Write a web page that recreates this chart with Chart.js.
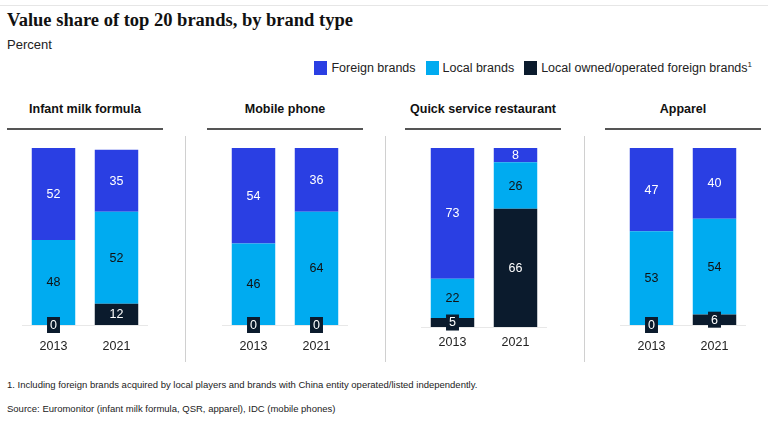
<!DOCTYPE html>
<html>
<head>
<meta charset="utf-8">
<script src="https://cdn.jsdelivr.net/npm/chart.js@4"></script>
<style>
  body { margin: 0; width: 768px; height: 422px; background: #fff; font-family: 'Liberation Sans', Arial, sans-serif; color: #222; position: relative; overflow: hidden; }
  .topline { position: absolute; left: 0; top: 5px; width: 768px; height: 1px; background: #e6e6e6; }
  .title { position: absolute; left: 7px; top: 10px; font-family: 'Liberation Serif', 'Times New Roman', serif; font-weight: bold; font-size: 18.5px; color: #111; }
  .sub { position: absolute; left: 7px; top: 37px; font-size: 13px; color: #222; }
  .legend { position: absolute; right: 16px; top: 60px; font-size: 12.5px; display: flex; align-items: center; }
  .legend span.sw { display: inline-block; width: 13px; height: 14px; margin-right: 4px; }
  .legend .item { display: flex; align-items: center; margin-left: 10px; }
  .head { position: absolute; top: 102px; width: 156px; text-align: center; font-weight: bold; font-size: 12.5px; color: #111; }
  .hline { position: absolute; top: 128px; width: 156px; height: 1.5px; background: #555; }
  .vsep { position: absolute; top: 136px; width: 1px; height: 226px; background: #d0d0d0; }
  .panel { position: absolute; top: 148px; width: 126px; }
  .note { position: absolute; left: 7px; font-size: 9.5px; color: #222; }
</style>
</head>
<body>
<div class="topline"></div>
<div class="title">Value share of top 20 brands, by brand type</div>
<div class="sub">Percent</div>
<div class="legend" id="legend"></div>

<div class="vsep" style="left:185px"></div>
<div class="vsep" style="left:385px"></div>
<div class="vsep" style="left:584px"></div>

<div class="note" style="top:379px">1. Including foreign brands acquired by local players and brands with China entity operated/listed independently.</div>
<div class="note" style="top:403px">Source: Euromonitor (infant milk formula, QSR, apparel), IDC (mobile phones)</div>

<script>
const categories = ['Infant milk formula', 'Mobile phone', 'Quick service restaurant', 'Apparel'];
const years = ['2013', '2021'];
const seriesNames = ['Foreign brands', 'Local brands', 'Local owned/operated foreign brands\u00b9'];

// values per category: [2013, 2021]
const foreign = [[52, 35], [54, 36], [73, 8], [47, 40]];
const local = [[48, 52], [46, 64], [22, 26], [53, 54]];
const localForeign = [[0, 12], [0, 0], [5, 66], [0, 6]];

const colors = ['#2a3fe3', '#00abf0', '#0b1b2d'];
const textColors = ['#ffffff', '#111111', '#ffffff'];

// legend
const legendEl = document.getElementById('legend');
seriesNames.forEach((name, i) => {
    const item = document.createElement('div');
    item.className = 'item';
    const sw = document.createElement('span');
    sw.className = 'sw';
    sw.style.background = colors[i];
    item.appendChild(sw);
    const t = document.createElement('span');
    if (name.endsWith('\u00b9')) {
        t.innerHTML = name.slice(0, -1) + '<sup style="font-size:8px">1</sup>';
    } else {
        t.textContent = name;
    }
    item.appendChild(t);
    legendEl.appendChild(item);
});

// value labels
const valueLabels = {
    id: 'valueLabels',
    afterDatasetsDraw(chart) {
        const ctx = chart.ctx;
        ctx.save();
        ctx.font = "12.5px 'Liberation Sans', Arial, sans-serif";
        ctx.textAlign = 'center';
        ctx.textBaseline = 'middle';
        chart.data.datasets.forEach((ds, di) => {
            const meta = chart.getDatasetMeta(di);
            meta.data.forEach((bar, i) => {
                const v = ds.data[i];
                const cy = (bar.y + bar.base) / 2;
                const h = Math.abs(bar.base - bar.y);
                if (ds.kind === 2 && h < 16) {
                    const w = ctx.measureText(String(v)).width + 6;
                    ctx.fillStyle = colors[2];
                    ctx.fillRect(bar.x - w / 2, cy - 8, w, 16);
                    ctx.fillStyle = '#fff';
                    ctx.fillText(String(v), bar.x, cy + 0.5);
                } else if (v > 0) {
                    ctx.fillStyle = textColors[ds.kind];
                    ctx.fillText(String(v), bar.x, cy + 0.5);
                }
            });
        });
        ctx.restore();
    }
};

const panelLeft = [22, 221.5, 421, 620];
const headLeft = [7, 207, 405, 605];
const tickPad = [14, 14, 8, 14];
const panelHeight = [220, 220, 210, 220];

categories.forEach((cat, c) => {
    const head = document.createElement('div');
    head.className = 'head';
    head.style.left = headLeft[c] + 'px';
    head.textContent = cat;
    document.body.appendChild(head);
    const hl = document.createElement('div');
    hl.className = 'hline';
    hl.style.left = headLeft[c] + 'px';
    document.body.appendChild(hl);

    const wrap = document.createElement('div');
    wrap.className = 'panel';
    wrap.style.left = panelLeft[c] + 'px';
    wrap.style.height = panelHeight[c] + 'px';
    const cv = document.createElement('canvas');
    wrap.appendChild(cv);
    document.body.appendChild(wrap);

    new Chart(cv, {
        type: 'bar',
        data: {
            labels: years,
            datasets: [
                { label: seriesNames[2], kind: 2, data: localForeign[c], backgroundColor: colors[2] },
                { label: seriesNames[1], kind: 1, data: local[c], backgroundColor: colors[1] },
                { label: seriesNames[0], kind: 0, data: foreign[c], backgroundColor: colors[0] }
            ]
        },
        options: {
            responsive: true,
            maintainAspectRatio: false,
            animation: false,
            datasets: { bar: { categoryPercentage: 1, barPercentage: 0.69, borderWidth: 0 } },
            layout: { padding: { top: 0, bottom: 0, left: 0, right: 0 } },
            plugins: {
                legend: { display: false },
                tooltip: { enabled: false }
            },
            scales: {
                y: { stacked: true, min: 0, max: 100, display: false },
                x: {
                    stacked: true,
                    grid: { display: false, drawTicks: false },
                    border: { color: '#e8e8e8', width: 1 },
                    ticks: {
                        color: '#222',
                        padding: tickPad[c],
                        font: { size: 12.5, family: "'Liberation Sans', Arial, sans-serif" }
                    }
                }
            }
        },
        plugins: [valueLabels]
    });
});
</script>
</body>
</html>
